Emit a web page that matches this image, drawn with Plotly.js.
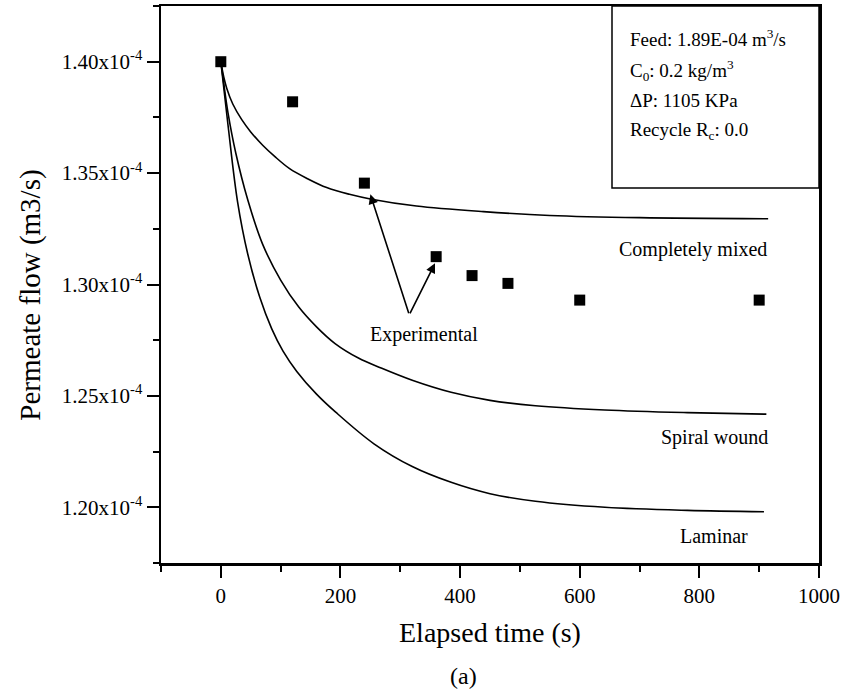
<!DOCTYPE html>
<html><head><meta charset="utf-8">
<script src="https://cdn.plot.ly/plotly-3.0.1.min.js"></script>
<style>html,body{margin:0;padding:0;background:#fff}</style>
</head><body><div id="chart" style="width:841px;height:693px"></div>
<script>
// Experimental points
const expTime = [0, 120, 240, 360, 420, 480, 600, 900];
const expFlow = [1.400e-4, 1.382e-4, 1.3455e-4, 1.3125e-4, 1.304e-4, 1.3005e-4, 1.293e-4, 1.293e-4];
// Completely mixed model
const mixedTime = [0, 5, 10, 20, 35, 50, 70, 90, 115, 145, 177, 215, 252, 327, 439, 550, 700, 915];
const mixedFlow = [1.400e-4, 1.393e-4, 1.388e-4, 1.381e-4, 1.374e-4, 1.3685e-4, 1.3625e-4, 1.3575e-4, 1.352e-4, 1.3475e-4, 1.3435e-4, 1.3405e-4, 1.3383e-4, 1.3352e-4, 1.3327e-4, 1.3310e-4, 1.3300e-4, 1.3295e-4];
// Spiral wound model
const spiralTime = [0, 5, 12, 25, 45, 70, 100, 130, 160, 191, 230, 268, 320, 385, 450, 526, 642, 780, 912];
const spiralFlow = [1.400e-4, 1.390e-4, 1.377e-4, 1.359e-4, 1.338e-4, 1.318e-4, 1.302e-4, 1.290e-4, 1.281e-4, 1.2735e-4, 1.267e-4, 1.2625e-4, 1.257e-4, 1.2516e-4, 1.248e-4, 1.2456e-4, 1.2437e-4, 1.2425e-4, 1.2418e-4];
// Laminar model
const laminarTime = [0, 12, 28, 45, 65, 85, 104, 127, 160, 192, 256, 320, 385, 450, 526, 642, 780, 908];
const laminarFlow = [1.400e-4, 1.3716e-4, 1.3371e-4, 1.3137e-4, 1.2944e-4, 1.2802e-4, 1.2701e-4, 1.2610e-4, 1.2508e-4, 1.2427e-4, 1.2285e-4, 1.2183e-4, 1.2112e-4, 1.2061e-4, 1.2027e-4, 1.2000e-4, 1.1986e-4, 1.1980e-4];
// Axis ticks
const xTickVals = [0, 200, 400, 600, 800, 1000];
const yTickVals = [1.20e-4, 1.25e-4, 1.30e-4, 1.35e-4, 1.40e-4];
const yTickText = ['1.20x10<sup>-4</sup>', '1.25x10<sup>-4</sup>', '1.30x10<sup>-4</sup>', '1.35x10<sup>-4</sup>', '1.40x10<sup>-4</sup>'];
// Texts
const curveLabels = ['Completely mixed', 'Spiral wound', 'Laminar'];
const curveLabelX = [790, 825, 825];
const curveLabelY = [1.3156e-4, 1.2314e-4, 1.1870e-4];
const infoLines = ['Feed: 1.89E-04 m<sup>3</sup>/s', 'C<sub>0</sub>: 0.2 kg/m<sup>3</sup>', '\u0394P: 1105 KPa', 'Recycle R<sub>c</sub>: 0.0'];

const FONT = '"Liberation Serif", "Times New Roman", serif';
const lineStyle = {color: '#000', width: 1.6, shape: 'spline', smoothing: 1};

const traces = [
  {x: mixedTime, y: mixedFlow, mode: 'lines', line: lineStyle, hoverinfo: 'skip'},
  {x: spiralTime, y: spiralFlow, mode: 'lines', line: lineStyle, hoverinfo: 'skip'},
  {x: laminarTime, y: laminarFlow, mode: 'lines', line: lineStyle, hoverinfo: 'skip'},
  {x: expTime, y: expFlow, mode: 'markers', marker: {symbol: 'square', size: 11, color: '#000'}}
];

const annotations = [];
curveLabels.forEach((t, i) => annotations.push({
  x: curveLabelX[i], y: curveLabelY[i], xref: 'x', yref: 'y', text: t, showarrow: false,
  font: {family: FONT, size: 20, color: '#000'}, xanchor: 'center', yanchor: 'middle'
}));
annotations.push({x: 339, y: 1.2774e-4, xref: 'x', yref: 'y', text: 'Experimental', showarrow: false,
  font: {family: FONT, size: 20, color: '#000'}, xanchor: 'center', yanchor: 'middle'});
// arrows from a common tail
annotations.push({x: 250, y: 1.3405e-4, ax: 315, ay: 1.2864e-4, xref: 'x', yref: 'y', axref: 'x', ayref: 'y',
  text: '', showarrow: true, arrowhead: 2, arrowsize: 1.2, arrowwidth: 1.6, arrowcolor: '#000'});
annotations.push({x: 358, y: 1.3095e-4, ax: 315, ay: 1.2864e-4, xref: 'x', yref: 'y', axref: 'x', ayref: 'y',
  text: '', showarrow: true, arrowhead: 2, arrowsize: 1.2, arrowwidth: 1.6, arrowcolor: '#000'});
// info box lines
const infoY = [38, 70, 101, 131];
infoLines.forEach((t, i) => annotations.push({
  x: (628 - 161) / 658, y: (563 - infoY[i]) / 557, xref: 'paper', yref: 'paper', text: t, showarrow: false,
  font: {family: FONT, size: 19, color: '#000'}, xanchor: 'left', yanchor: 'middle'
}));
// axis titles
annotations.push({x: 0.5, y: (563 - 632) / 557, xref: 'paper', yref: 'paper', text: 'Elapsed time (s)', showarrow: false,
  font: {family: FONT, size: 28, color: '#000'}, xanchor: 'center', yanchor: 'middle'});
annotations.push({x: (463 - 161) / 658, y: (563 - 676) / 557, xref: 'paper', yref: 'paper', text: '(a)', showarrow: false,
  font: {family: FONT, size: 24, color: '#000'}, xanchor: 'center', yanchor: 'middle'});
annotations.push({x: (31 - 161) / 658, y: 0.48, xref: 'paper', yref: 'paper', text: 'Permeate flow (m3/s)', showarrow: false,
  textangle: -90, font: {family: FONT, size: 29, color: '#000'}, xanchor: 'center', yanchor: 'middle'});

const layout = {
  width: 841, height: 693,
  margin: {l: 161, r: 22, t: 6, b: 130},
  paper_bgcolor: '#fff', plot_bgcolor: '#fff',
  showlegend: false,
  font: {family: FONT, color: '#000'},
  xaxis: {
    range: [-100, 1000], tickvals: xTickVals, ticks: 'outside', ticklen: 12, tickwidth: 2, tickcolor: '#000',
    minor: {dtick: 100, tick0: 0, ticks: 'outside', ticklen: 6, tickwidth: 2, tickcolor: '#000'},
    showline: true, linecolor: '#000', linewidth: 2.5, mirror: true, showgrid: false, zeroline: false,
    tickfont: {family: FONT, size: 21, color: '#000'}
  },
  yaxis: {
    range: [1.175e-4, 1.425e-4], tickvals: yTickVals, ticktext: yTickText, ticks: 'outside', ticklen: 12, tickwidth: 2, tickcolor: '#000',
    minor: {dtick: 0.025e-4, tick0: 1.175e-4, ticks: 'outside', ticklen: 6, tickwidth: 2, tickcolor: '#000'},
    showline: true, linecolor: '#000', linewidth: 2.5, mirror: true, showgrid: false, zeroline: false,
    tickfont: {family: FONT, size: 21, color: '#000'}
  },
  shapes: [{type: 'rect', xref: 'paper', yref: 'paper', x0: (612 - 161) / 658, x1: 1, y0: (563 - 188) / 557, y1: 1,
    line: {color: '#000', width: 1.5}, fillcolor: 'rgba(0,0,0,0)'}],
  annotations: annotations
};

Plotly.newPlot('chart', traces, layout, {displayModeBar: false, staticPlot: true});
</script>
</body></html>
